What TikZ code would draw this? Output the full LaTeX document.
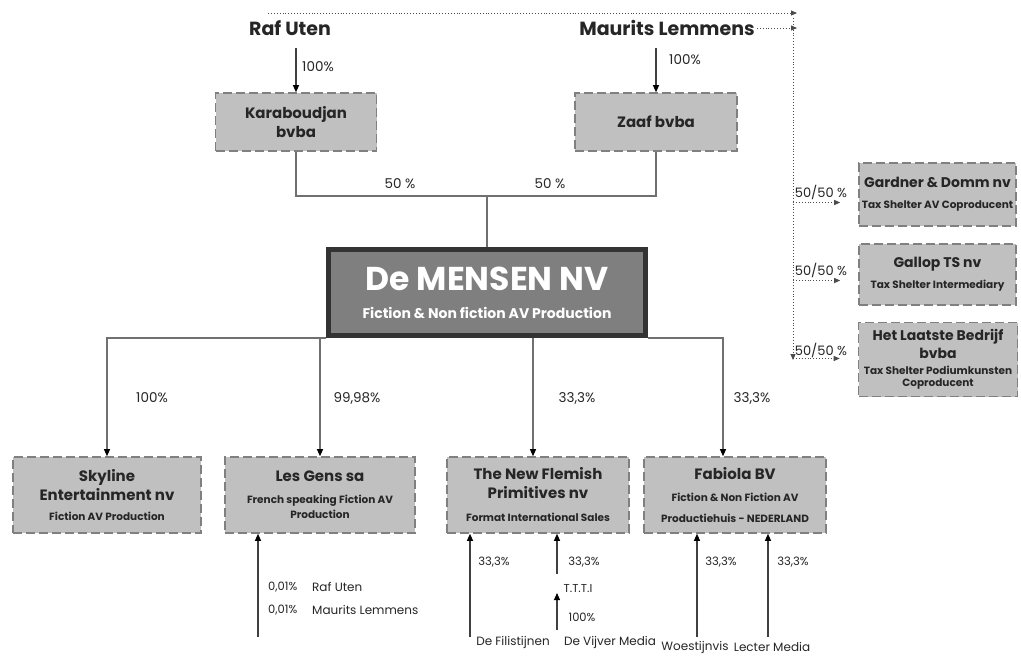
\documentclass[tikz,border=0pt]{standalone}
\usepackage{fontspec}
\setmainfont{Poppins}
\usetikzlibrary{arrows.meta}
\definecolor{boxfill}{HTML}{C0C0C0}
\definecolor{boxline}{HTML}{808080}
\definecolor{txt}{HTML}{262626}
\definecolor{midfill}{HTML}{7F7F7F}
\definecolor{midline}{HTML}{333333}
\definecolor{conn}{HTML}{707070}
\newcommand\cbT{\fontsize{15}{19}\selectfont\bfseries}
\newcommand\cbR{\fontsize{14}{19}\selectfont\bfseries}
\newcommand\cbS{\fontsize{10.5}{13}\selectfont\bfseries}
\tikzset{
  box/.style={draw=boxline, fill=boxfill, line width=1.6pt, dash pattern=on 9pt off 4pt,
    align=center, text=txt, inner sep=0pt, font=\fontsize{15}{19}\selectfont},
  midbox/.style={draw=midline, fill=midfill, line width=5pt, align=center, text=white, inner sep=0pt},
  conn/.style={draw=conn, line width=1.1pt},
  arr/.style={draw=conn, line width=1.1pt, -{Triangle[length=7pt,width=6pt,color=black]}},
  arrdk/.style={draw=black!75, line width=1.1pt, -{Triangle[length=7pt,width=6pt,color=black]}},
  dotarr/.style={draw=black!70, line width=0.9pt, dotted, -{Triangle[length=6pt,width=5pt]}},
  big/.style={font=\fontsize{19}{22}\selectfont\bfseries, text=txt, inner sep=0pt},
  pct/.style={font=\fontsize{13.5}{15}\selectfont, text=txt, inner sep=0pt},
  tx/.style={font=\fontsize{13}{15}\selectfont, text=txt, inner sep=0pt},
  sml/.style={font=\fontsize{11.5}{13}\selectfont, text=txt, inner sep=0pt},
  nm/.style={font=\fontsize{12}{14}\selectfont, text=txt, inner sep=0pt},
}
\begin{document}
\begin{tikzpicture}[x=1pt,y=-1pt]
\useasboundingbox[fill=white] (0,0) rectangle (1021,657);

% owners on top
\node[big] (raf) at (290,28) {Raf Uten};
\node[big] (maur) at (667,28) {Maurits Lemmens};

\node[box, minimum width=161, minimum height=58] (kara) at (296,122) {\cbT Karaboudjan\\\cbT bvba};
\node[box, minimum width=162, minimum height=58] (zaaf) at (656,122) {\cbT Zaaf bvba};

\draw[arrdk] ([yshift=44pt]kara.north) -- (kara.north);
\draw[arrdk] ([yshift=44pt]zaaf.north) -- (zaaf.north);
\node[pct] (p1) at (318,67) {100\%};
\node[pct] (p2) at (685,60) {100\%};

% central company
\node[midbox, minimum width=317, minimum height=86] (mid) at (487,292.5)
  {{\fontsize{33}{36}\selectfont\bfseries De MENSEN NV}\\[16pt]{\fontsize{14}{16}\selectfont\bfseries Fiction \& Non fiction AV Production}};

\coordinate (bar) at (485,196);
\draw[conn] (kara.south) |- (bar) -| (zaaf.south);
\draw[conn] (mid.north |- bar) -- (mid.north);
\node[pct] (h1) at (400,184) {50 \%};
\node[pct] (h2) at (550,184) {50 \%};

% subsidiaries
\node[box, minimum width=188, minimum height=76] (sky) at (107,495)
  {\cbT Skyline\\\cbT Entertainment nv\\[1pt]\cbS Fiction AV Production};
\node[box, minimum width=190, minimum height=76] (gens) at (320,495)
  {\cbT Les Gens sa\\[3pt]\cbS French speaking Fiction AV\\[-4pt]\cbS Production};
\node[box, minimum width=182, minimum height=76] (nfp) at (538,495)
  {\cbT The New Flemish\\\cbT Primitives nv\\[4pt]\cbS Format International Sales};
\node[box, minimum width=182, minimum height=76] (fab) at (735,495)
  {\cbT Fabiola BV\\[3pt]\cbS Fiction \& Non Fiction AV\\[2pt]\cbS Productiehuis - NEDERLAND};

\draw[arr] (mid.south west) -| (sky.north);
\draw[arr] (gens.north |- mid.south) -- (gens.north);
\draw[arr] ([xshift=-5pt]nfp.north |- mid.south) -- ([xshift=-5pt]nfp.north);
\draw[arr] (mid.south east) -| ([xshift=-12pt]fab.north);
\node[pct] (s1) at (152,398) {100\%};
\node[pct] (s2) at (357,398) {99,98\%};
\node[pct] (s3) at (577,398) {33,3\%};
\node[pct] (s4) at (752,398) {33,3\%};

% tax shelter boxes
\node[box, minimum width=157, minimum height=63] (gard) at (937.5,194.5)
  {\cbR Gardner \& Domm nv\\[2pt]\cbS Tax Shelter AV Coproducent};
\node[box, minimum width=157, minimum height=61] (gall) at (937.5,274.5)
  {\cbR Gallop TS nv\\[2pt]\cbS Tax Shelter Intermediary};
\node[box, minimum width=159, minimum height=74] (laat) at (938,359.5)
  {\cbR Het Laatste Bedrijf\\[-1pt]\cbR bvba\\[-3pt]\cbS Tax Shelter Podiumkunsten\\[-7pt]\cbS Coproducent};

\coordinate (dstart) at (268,13);
\coordinate (vx) at (793,13);
\draw[dotarr] (dstart) -- ([xshift=4pt]vx);
\draw[dotarr] ([xshift=2pt]maur.east) -- ([xshift=4pt]vx |- maur.east);
\draw[dotarr] ([yshift=-5pt]vx) -- (vx |- 0,360);
\draw[dotarr] ([yshift=-8pt]vx |- gard.center) -- ([yshift=-8pt,xshift=-18pt]gard.west);
\draw[dotarr] ([yshift=-6pt]vx |- gall.center) -- ([yshift=-6pt,xshift=-18pt]gall.west);
\draw[dotarr] ([yshift=1pt]vx |- laat.center) -- ([yshift=1pt,xshift=-18pt]laat.west);
\node[tx] (t1) at (821,192) {50/50 \%};
\node[tx] (t2) at (821,270) {50/50 \%};
\node[tx] (t3) at (821,350) {50/50 \%};

% minority shareholders
\coordinate (g0) at (258,637);
\draw[arrdk] (g0) -- (g0 |- gens.south);
\node[sml, anchor=west] (g1) at (268,587) {0,01\%};
\node[nm, anchor=west] (g2) at (312,587) {Raf Uten};
\node[sml, anchor=west] (g3) at (268,610) {0,01\%};
\node[nm, anchor=west] (g4) at (312,610) {Maurits Lemmens};

\coordinate (f0) at (470,637);
\draw[arrdk] (f0) -- (f0 |- nfp.south);
\node[sml] (f1) at (494,562) {33,3\%};
\node[nm] (fil) at (513,642) {De Filistijnen};
\coordinate (v0) at (557,574);
\draw[arrdk] (v0) -- (v0 |- nfp.south);
\node[sml] (v1) at (584,562) {33,3\%};
\node[sml] (ttti) at (578,589) {T.T.T.I};
\coordinate (v2) at (557,630);
\draw[arrdk] (v2) -- (557,593);
\node[sml] (v3) at (582,617) {100\%};
\node[nm] (vij) at (610,642) {De Vijver Media};

\coordinate (w0) at (697,637);
\draw[arrdk] (w0) -- (w0 |- fab.south);
\node[sml] (w1) at (721,562) {33,3\%};
\node[nm] (woe) at (695,647) {Woestijnvis};
\coordinate (l0) at (768,637);
\draw[arrdk] (l0) -- (l0 |- fab.south);
\node[sml] (l1) at (793,562) {33,3\%};
\node[nm] (lec) at (772,647) {Lecter Media};
\end{tikzpicture}
\end{document}
